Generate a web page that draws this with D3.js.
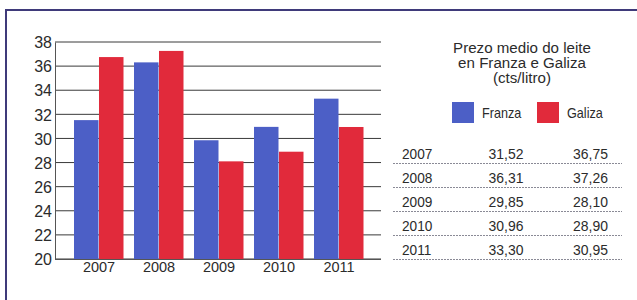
<!DOCTYPE html>
<html>
<head>
<meta charset="utf-8">
<script src="https://cdn.jsdelivr.net/npm/d3@7"></script>
<style>
  body { margin: 0; background: #fff; }
  svg text { font-family: "Liberation Sans", Arial, sans-serif; fill: #2b2b2b; }
</style>
</head>
<body>
<div id="vis"></div>
<script>
// Data
const years = ["2007", "2008", "2009", "2010", "2011"];
const series = ["Franza", "Galiza"];
const franza = [31.52, 36.31, 29.85, 30.96, 33.30];
const galiza = [36.75, 37.26, 28.10, 28.90, 30.95];
const yTicks = [20, 22, 24, 26, 28, 30, 32, 34, 36, 38];
const titleLines = ["Prezo medio do leite", "en Franza e Galiza", "(cts/litro)"];

const colors = { Franza: "#4c5fc6", Galiza: "#e12a3b" };

const W = 637, H = 300;
const svg = d3.select("#vis").append("svg")
  .attr("width", W).attr("height", H);

// stretch / squeeze text horizontally (the scan uses a narrower face)
function squeeze(sel, k) {
  sel.each(function () {
    const len = this.getComputedTextLength();
    d3.select(this).attr("textLength", len * k).attr("lengthAdjust", "spacingAndGlyphs");
  });
}

// frame
svg.append("rect")
  .attr("x", 6).attr("y", 10)
  .attr("width", 700).attr("height", 400)
  .attr("fill", "#fff")
  .attr("stroke", "#3f3a7a")
  .attr("stroke-width", 2);

const rows = years.map((y, i) => ({ year: y, Franza: franza[i], Galiza: galiza[i] }));

// scales
const xScale = d3.scaleBand().domain(years).range([69, 369])
  .paddingInner(1 / 6).paddingOuter(1 / 12);
const xSub = d3.scaleBand().domain(series).range([0, xScale.bandwidth()]);
const yScale = d3.scaleLinear().domain([20, 38]).range([259, 42]);

// gridlines
svg.append("g")
  .selectAll("line")
  .data(yTicks)
  .enter()
  .append("line")
  .attr("x1", 55).attr("x2", 381)
  .attr("y1", d => yScale(d)).attr("y2", d => yScale(d))
  .attr("stroke", "#3a3a3a")
  .attr("stroke-width", 1);

// bars
const groups = svg.append("g")
  .selectAll("g")
  .data(rows)
  .enter()
  .append("g")
  .attr("transform", d => `translate(${xScale(d.year)},0)`);

groups.selectAll("rect")
  .data(d => series.map(s => ({ key: s, value: d[s] })))
  .enter()
  .append("rect")
  .attr("x", d => xSub(d.key))
  .attr("width", xSub.bandwidth() - 0.5)
  .attr("y", d => yScale(d.value))
  .attr("height", d => yScale(20) - yScale(d.value))
  .attr("fill", d => colors[d.key]);

// y axis
const yAxis = d3.axisLeft(yScale).tickValues(yTicks).tickSize(0).tickPadding(3);
const yg = svg.append("g").attr("transform", "translate(55,0)").call(yAxis);
yg.select(".domain").attr("stroke", "#555").attr("stroke-width", 1);
yg.selectAll("text").style("font-size", "16px").attr("fill", "#2b2b2b")
  .attr("dy", "0.36em");

// x axis
const xAxis = d3.axisBottom(xScale).tickSize(0).tickPadding(3);
const xg = svg.append("g").attr("transform", "translate(0,259)").call(xAxis);
xg.select(".domain").remove();
xg.selectAll("text").style("font-size", "14.5px").attr("fill", "#2b2b2b");
svg.append("line")
  .attr("x1", 55).attr("x2", 381)
  .attr("y1", 259.5).attr("y2", 259.5)
  .attr("stroke", "#555");

// title
svg.append("g")
  .selectAll("text")
  .data(titleLines)
  .enter()
  .append("text")
  .attr("x", 522)
  .attr("y", (d, i) => 53 + i * 15)
  .attr("text-anchor", "middle")
  .style("font-size", "14px")
  .text(d => d)
  .call(squeeze, 1.08);

// legend
const legendX = [452, 537];
series.forEach((s, i) => {
  svg.append("rect")
    .attr("x", legendX[i]).attr("y", 102)
    .attr("width", 22).attr("height", 21)
    .attr("fill", colors[s]);
  svg.append("text")
    .attr("x", legendX[i] + 30).attr("y", 118)
    .style("font-size", "14.5px")
    .text(s)
    .call(squeeze, 0.87);
});

// table
const fmt = v => v.toFixed(2).replace(".", ",");
const rowY = d3.scaleLinear().domain([0, 1]).range([158.5, 182.5]);

const tr = svg.append("g")
  .selectAll("g")
  .data(rows)
  .enter()
  .append("g");

tr.append("text")
  .attr("x", 402).attr("y", (d, i) => rowY(i))
  .style("font-size", "15.5px")
  .text(d => d.year)
  .call(squeeze, 0.88);
tr.append("text")
  .attr("x", 506).attr("y", (d, i) => rowY(i))
  .attr("text-anchor", "middle")
  .style("font-size", "15.5px")
  .text(d => fmt(d.Franza))
  .call(squeeze, 0.9);
tr.append("text")
  .attr("x", 608).attr("y", (d, i) => rowY(i))
  .attr("text-anchor", "end")
  .style("font-size", "15.5px")
  .text(d => fmt(d.Galiza))
  .call(squeeze, 0.9);
tr.append("line")
  .attr("x1", 393).attr("x2", 622)
  .attr("y1", (d, i) => rowY(i) + 5).attr("y2", (d, i) => rowY(i) + 5)
  .attr("stroke", "#8a8a96")
  .attr("stroke-width", 1)
  .attr("stroke-dasharray", "2,1");
</script>
</body>
</html>
